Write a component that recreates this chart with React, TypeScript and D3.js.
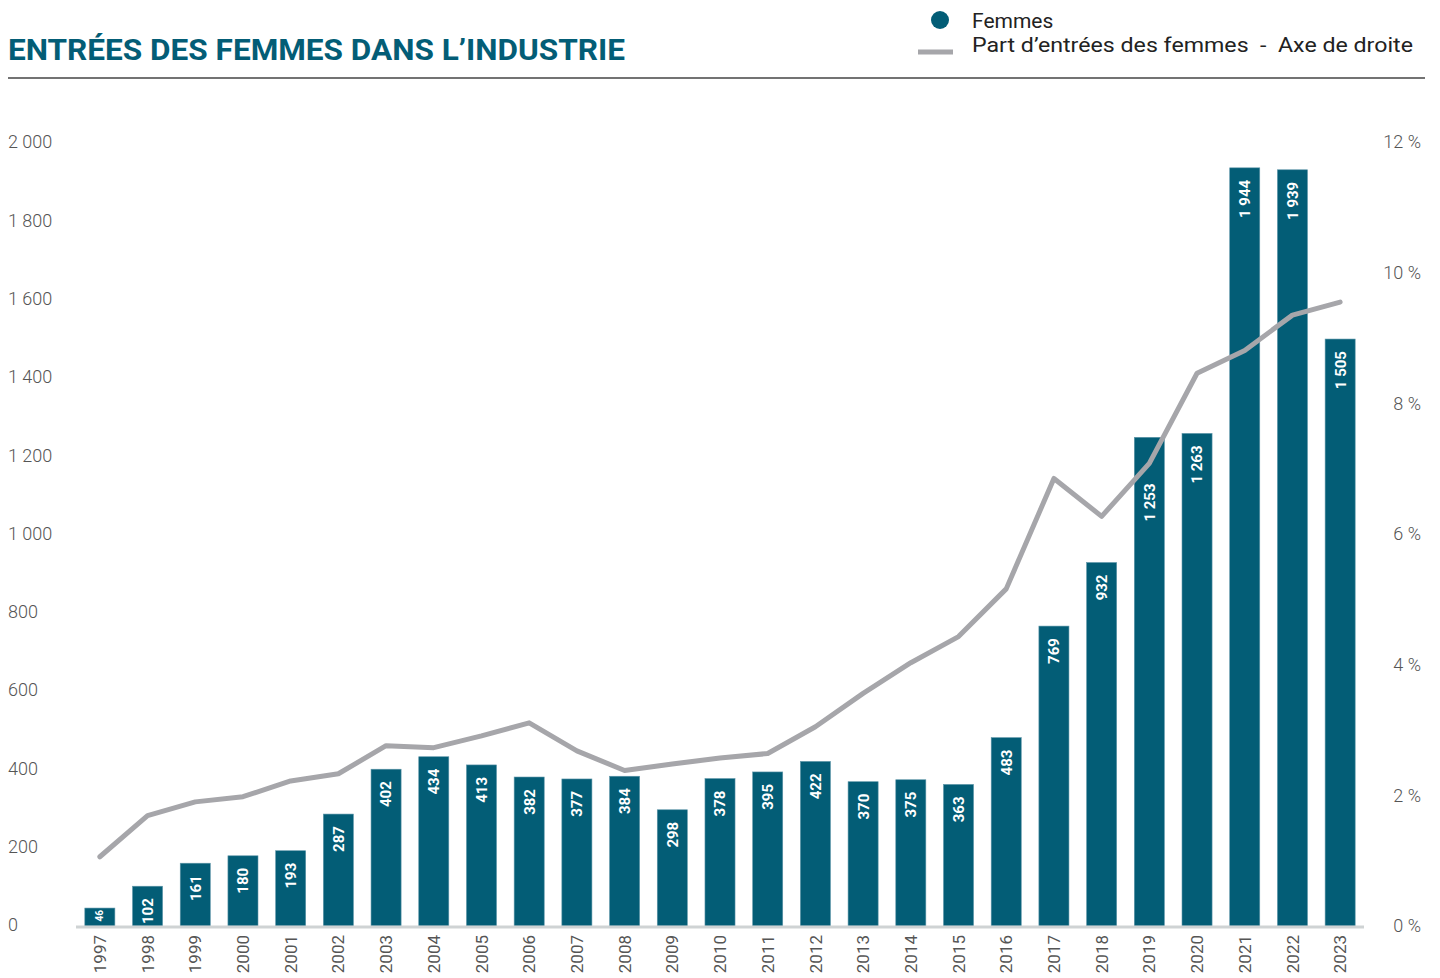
import React from "react";
import * as d3 from "d3";

const years = ["1997","1998","1999","2000","2001","2002","2003","2004","2005","2006","2007","2008","2009","2010","2011","2012","2013","2014","2015","2016","2017","2018","2019","2020","2021","2022","2023"];
const femmes = [46,102,161,180,193,287,402,434,413,382,377,384,298,378,395,422,370,375,363,483,769,932,1253,1263,1944,1939,1505];
const partPct = [1.06,1.69,1.90,1.98,2.22,2.33,2.76,2.73,2.91,3.11,2.68,2.38,2.48,2.57,2.64,3.05,3.56,4.03,4.43,5.16,6.85,6.27,7.08,8.46,8.81,9.35,9.55];
const leftTicks = [0,200,400,600,800,1000,1200,1400,1600,1800,2000];
const rightTicks = [0,2,4,6,8,10,12];

const TEAL = "#035d76";
const GRAY_LINE = "#a6a6aa";
const TXT = "#555";
const FONT = "Roboto, 'Noto Sans', sans-serif";

const fmt = (v: number) => {
  const s = String(v);
  return s.length > 3 ? s.slice(0, s.length - 3) + " " + s.slice(-3) : s;
};

export default function App() {
  const W = 1440, H = 978;
  const x = d3.scaleBand<string>().domain(years).range([76, 1364]).paddingInner(0.37).paddingOuter(0.185);
  const y = d3.scaleLinear().domain([0, 2000]).range([926, 146]);
  const yLab = d3.scaleLinear().domain([0, 2000]).range([925, 142]);
  const y2 = d3.scaleLinear().domain([0, 12]).range([926, 142]);
  const cx = (yr: string) => (x(yr) as number) + x.bandwidth() / 2;
  const line = d3.line<number>().x((_, i) => cx(years[i])).y((d) => y2(d));

  return (
    <svg width={W} height={H} style={{ position: "absolute", left: 0, top: 0, fontFamily: FONT }}>
      <rect width={W} height={H} fill="#fff" />
      {/* title */}
      <text x={8} y={60} fill={TEAL} fontSize={30} fontWeight={700} textLength={617} lengthAdjust="spacingAndGlyphs">ENTRÉES DES FEMMES DANS L’INDUSTRIE</text>
      <line x1={8} x2={1425} y1={78} y2={78} stroke="#444" strokeWidth={1.5} />
      {/* legend */}
      <circle cx={940} cy={20} r={9} fill={TEAL} />
      <text x={972} y={28} fontSize={21} fill="#222">Femmes</text>
      <line x1={918} x2={953} y1={52} y2={52} stroke={GRAY_LINE} strokeWidth={5} />
      <text x={972} y={52} fontSize={21} fill="#222" textLength={441} lengthAdjust="spacingAndGlyphs" style={{ whiteSpace: "pre" }}>Part d’entrées des femmes  -  Axe de droite</text>

      {/* left axis labels */}
      {leftTicks.map((t) => (
        <text key={"l" + t} x={8} y={yLab(t)} dy="0.35em" fontSize={18} fill={TXT} fontWeight={300}>{fmt(t)}</text>
      ))}
      {/* right axis labels */}
      {rightTicks.map((t) => (
        <text key={"r" + t} x={1421} y={y2(t)} dy="0.35em" fontSize={18} fill={TXT} textAnchor="end" fontWeight={300}>{t + " %"}</text>
      ))}

      {/* bars */}
      {femmes.map((v, i) => {
        const yr = years[i];
        return <rect key={"b" + yr} x={x(yr)} y={y(v)} width={x.bandwidth()} height={y(0) - y(v)} fill={TEAL} stroke="#5d95a8" strokeWidth={0.6} />;
      })}

      {/* axis line */}
      <line x1={76} x2={1364} y1={927} y2={927} stroke="#cfd3d4" strokeWidth={3} />

      {/* line */}
      <path d={line(partPct) || ""} fill="none" stroke={GRAY_LINE} strokeWidth={5} strokeLinejoin="round" strokeLinecap="round" />

      {/* bar labels */}
      {femmes.map((v, i) => {
        const yr = years[i];
        const top = y(v);
        const h = y(0) - top;
        const c = cx(yr);
        const small = h < 30;
        const fs = small ? 10 : 15;
        const label = fmt(v);
        const approxLen = label.length * fs * 0.55;
        let start = top + (small ? 2 : 12);
        const ly = y2(partPct[i]);
        if (!small && ly > top - 4 && ly < start + approxLen + 4) start = ly + 20;
        return (
          <text key={"t" + yr} transform={`translate(${c},${start}) rotate(-90)`} textAnchor="end" dy="0.36em" fontSize={fs} fontWeight={700} fill="#fff">{label}</text>
        );
      })}

      {/* year labels */}
      {years.map((yr) => (
        <text key={"y" + yr} transform={`translate(${cx(yr)},935) rotate(-90)`} textAnchor="end" dy="0.36em" fontSize={17} fill={TXT}>{yr}</text>
      ))}
    </svg>
  );
}
